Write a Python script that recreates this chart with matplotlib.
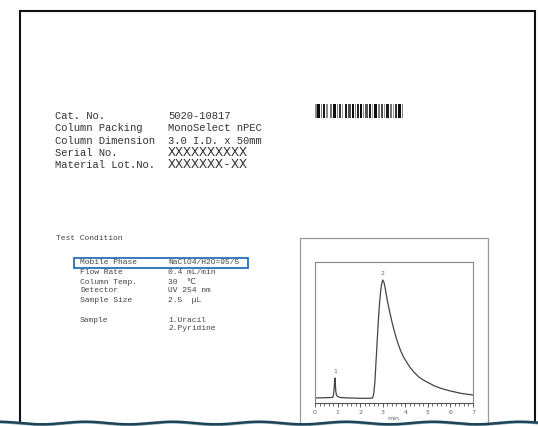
import matplotlib
matplotlib.use("Agg")
import matplotlib.pyplot as plt
import numpy as np
from matplotlib.patches import Rectangle
from matplotlib.ticker import MultipleLocator

# --- header info of the column certificate
info_labels = ["Cat. No.", "Column Packing", "Column Dimension", "Serial No.", "Material Lot.No."]
info_values = ["5020-10817", "MonoSelect nPEC", "3.0 I.D. x 50mm", "XXXXXXXXXX", "XXXXXXX-XX"]

# --- test condition block
cond_labels = ["Mobile Phase", "Flow Rate", "Column Temp.", "Detector", "Sample Size", "", "Sample", ""]
cond_values = ["NaClO4/H2O=95/5", "0.4 mL/min", "30  \u2103", "UV 254 nm", "2.5  \u00b5L", "", "1.Uracil", "2.Pyridine"]

# --- chromatogram (min, signal)
time_min = [0.0, 0.3, 0.6, 0.78, 0.82, 0.85, 0.87, 0.885, 0.90, 0.92, 0.95, 1.0, 1.1, 1.3, 1.6,
            2.0, 2.4, 2.55, 2.6, 2.65, 2.7, 2.75, 2.8, 2.85, 2.9, 2.95, 3.0, 3.05, 3.1, 3.2,
            3.3, 3.4, 3.5, 3.6, 3.7, 3.8, 3.9, 4.0, 4.2, 4.4, 4.6, 4.8, 5.0, 5.3, 5.6, 6.0,
            6.5, 7.0]
signal = [0.0, 0.2, 0.4, 0.6, 3, 10, 17, 20, 15, 7, 3, 1.5, 0.6, 0.2, 0.0,
          -0.3, -0.3, 0.0, 4, 15, 35, 55, 75, 92, 105, 114, 118, 116, 111, 98,
          87, 77, 68, 60, 53, 47, 42, 38, 31, 25.5, 21, 18, 15.5, 12, 9.5, 7,
          4.5, 3]
peak_labels = ["1", "2"]
peak_times = [0.885, 3.0]
peak_heights = [20, 118]

# barcode bars: (left px, width px, grey level)
barcode = [(315, 2, 0.55), (317, 3, 0.05), (321, 1, 0.5), (323, 2, 0.1), (326, 2, 0.55),
           (330, 2, 0.45), (333, 3, 0.05), (337, 1, 0.5), (339, 2, 0.2), (342, 1, 0.6),
           (345, 2, 0.1), (348, 3, 0.3), (352, 2, 0.05), (355, 1, 0.5), (357, 2, 0.15),
           (360, 2, 0.05), (363, 1, 0.55), (365, 3, 0.35), (369, 2, 0.1), (372, 1, 0.6),
           (374, 3, 0.05), (378, 2, 0.5), (381, 2, 0.3), (384, 1, 0.55), (386, 3, 0.1),
           (390, 2, 0.45), (393, 1, 0.6), (395, 2, 0.2), (398, 3, 0.05), (402, 1, 0.5)]

W, H = 538, 426
fig = plt.figure(figsize=(W / 100, H / 100), dpi=100)
fig.patch.set_facecolor("white")

# background / page layer in pixel coords
bg = fig.add_axes([0, 0, 1, 1], zorder=0)
bg.set_xlim(0, W)
bg.set_ylim(H, 0)
bg.axis("off")

bg.add_patch(Rectangle((20, 11), 515, 415, fill=False, edgecolor="#111111", lw=1.5))

mono = ["Liberation Mono", "DejaVu Sans"]
for i, (lab, val) in enumerate(zip(info_labels, info_values)):
    y = 116 + i * 12.3
    bg.text(55, y, lab, family=mono, fontsize=7.6, color="#333333", va="center", ha="left")
    big = val.startswith("X")
    bg.text(168, y, val, family=mono, fontsize=9.6 if big else 7.6, color="#333333",
            va="center", ha="left")

for left, w, g in barcode:
    bg.add_patch(Rectangle((left, 104), w, 14, facecolor=str(g), edgecolor="none"))

bg.text(56, 238, "Test Condition", family=mono, fontsize=5.8, color="#444444", va="center")
cond_y = [263, 273, 282, 291, 301, 310, 320, 329]
for lab, val, y in zip(cond_labels, cond_values, cond_y):
    if lab:
        bg.text(80, y, lab, family=mono, fontsize=5.8, color="#444444", va="center")
    if val:
        bg.text(168, y, val, family=mono, fontsize=5.8, color="#444444", va="center")
bg.add_patch(Rectangle((74, 257.5), 174, 10.5, fill=False, edgecolor="#2a6ebb", lw=1.3))

# chromatogram frame
bg.plot([300, 300, 488, 488], [H, 238, 238, H], color="#999999", lw=0.9)

# chromatogram axes
L, R, T, B = 315, 473, 262, 403
ax = fig.add_axes([L / W, (H - B) / H, (R - L) / W, (B - T) / H], zorder=1)
ax.plot(time_min, signal, color="#444444", lw=0.9)
ax.set_xlim(0, 7)
ax.set_ylim(-5, 136)
for sp in ax.spines.values():
    sp.set_color("#888888")
    sp.set_linewidth(0.8)
ax.spines["bottom"].set_color("#555555")
ax.set_yticks([])
ax.xaxis.set_major_locator(MultipleLocator(1))
ax.xaxis.set_minor_locator(MultipleLocator(0.2))
ax.tick_params(axis="x", which="major", length=3, width=0.7, color="#555555",
               labelsize=4.5, labelcolor="#666666", pad=2)
ax.tick_params(axis="x", which="minor", length=2, width=0.6, color="#555555")
ax.set_xlabel("min.", fontsize=4.5, color="#666666", labelpad=1)
for lab, t, h in zip(peak_labels, peak_times, peak_heights):
    ax.text(t, h + 4, lab, fontsize=4.5, color="#666666", ha="center", va="bottom")

# torn bottom edge on top of everything
top = fig.add_axes([0, 0, 1, 1], zorder=2)
top.set_xlim(0, W)
top.set_ylim(H, 0)
top.axis("off")
top.patch.set_alpha(0)
xs = np.linspace(0, W, 600)
wave = 423 + 1.3 * np.sin(2 * np.pi * (xs - 20) / 87)
top.fill_between(xs, wave, H + 2, color="white")
top.plot(xs, wave + 1.2, color="#8fb0bd", lw=1.0)
top.plot(xs, wave, color="#1d4457", lw=1.8)

fig.savefig("out.png", dpi=100, facecolor="white")
